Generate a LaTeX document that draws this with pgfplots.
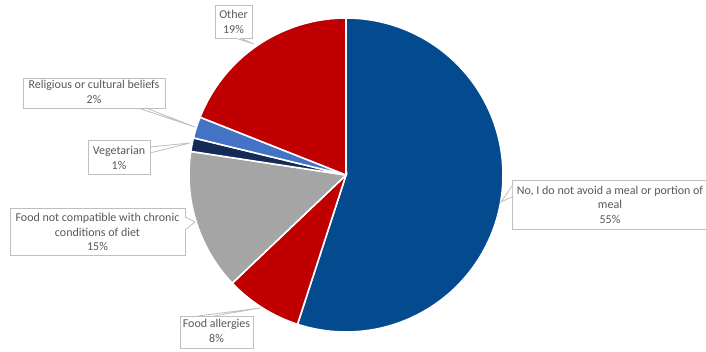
\documentclass[border=0pt]{standalone}
\usepackage{fontspec}
\setmainfont{Carlito}
\usepackage{pgfplots}
\pgfplotsset{compat=1.18}
\definecolor{pieblue}{HTML}{044A8F}
\definecolor{piered}{HTML}{C00000}
\definecolor{piegray}{HTML}{A5A5A5}
\definecolor{pienavy}{HTML}{142C55}
\definecolor{pielblue}{HTML}{4472C4}
\definecolor{txtgray}{HTML}{595959}
\definecolor{boxgray}{HTML}{BFBFBF}
% slice values (percent), clockwise from 12 o'clock
\def\vNo{55.0}
\def\vAll{7.9}
\def\vChr{14.5}
\def\vVeg{1.4}
\def\vRel{2.2}
\def\vOth{19.0}
\pgfmathsetmacro\aA{0}
\pgfmathsetmacro\aB{\aA+3.6*\vNo}
\pgfmathsetmacro\aC{\aB+3.6*\vAll}
\pgfmathsetmacro\aD{\aC+3.6*\vChr}
\pgfmathsetmacro\aE{\aD+3.6*\vVeg}
\pgfmathsetmacro\aF{\aE+3.6*\vRel}
\pgfmathsetmacro\aG{\aF+3.6*\vOth}
\begin{document}
\begin{tikzpicture}
\begin{axis}[
  width=706bp, height=352bp, scale only axis,
  xmin=0, xmax=706, ymin=0, ymax=352, y dir=reverse,
  hide axis, clip=false,
]
\pgfplotsset{pieslice/.style={draw=white, line width=1.6bp, samples=90, variable=\t}}
\addplot[pieslice, fill=pieblue, domain=\aA:\aB, samples=150] ({346+157*sin(t)},{175-157*cos(t)}) -- (axis cs:346,175) -- cycle;
\addplot[pieslice, fill=piered, domain=\aB:\aC] ({346+157*sin(t)},{175-157*cos(t)}) -- (axis cs:346,175) -- cycle;
\addplot[pieslice, fill=piegray, domain=\aC:\aD] ({346+157*sin(t)},{175-157*cos(t)}) -- (axis cs:346,175) -- cycle;
\addplot[pieslice, fill=pienavy, domain=\aD:\aE, samples=10] ({346+157*sin(t)},{175-157*cos(t)}) -- (axis cs:346,175) -- cycle;
\addplot[pieslice, fill=pielblue, domain=\aE:\aF, samples=10] ({346+157*sin(t)},{175-157*cos(t)}) -- (axis cs:346,175) -- cycle;
\addplot[pieslice, fill=piered, domain=\aF:\aG] ({346+157*sin(t)},{175-157*cos(t)}) -- (axis cs:346,175) -- cycle;

% label boxes with callout wedges
\tikzset{lbox/.style={draw=boxgray, fill=white, line width=0.8bp},
         wedge/.style={draw=boxgray, line width=0.8bp},
         ltxt/.style={text=txtgray, align=center, inner sep=0pt, font=\fontsize{12bp}{14.5bp}\selectfont}}
% Other
\draw[lbox] (axis cs:215,5) rectangle (axis cs:252,38);
\fill[white] (axis cs:235,38) -- (axis cs:253,43) -- (axis cs:240,38) -- cycle;
\draw[wedge] (axis cs:235,38) -- (axis cs:254,44) -- (axis cs:240,38);
\node[ltxt] at (axis cs:233.5,22) {Other\\19\%};
% Religious
\draw[lbox] (axis cs:23,78) rectangle (axis cs:165,108);
\draw[wedge] (axis cs:138,108) -- (axis cs:195,127) -- (axis cs:146,108);
\node[ltxt] at (axis cs:94,92) {Religious or cultural beliefs\\2\%};
% Vegetarian
\draw[lbox] (axis cs:88,140) rectangle (axis cs:150,174);
\draw[wedge] (axis cs:150,147) -- (axis cs:190,143) -- (axis cs:150,153);
\node[ltxt] at (axis cs:119,158) {Vegetarian\\1\%};
% Chronic
\draw[lbox] (axis cs:10,208) rectangle (axis cs:185,255);
\fill[white] (axis cs:185,217) -- (axis cs:195,222) -- (axis cs:185,230) -- cycle;
\draw[wedge] (axis cs:185,217) -- (axis cs:195,222) -- (axis cs:185,230);
\node[ltxt] at (axis cs:97.5,232) {Food not compatible with chronic\\conditions of diet\\15\%};
% Food allergies
\draw[lbox] (axis cs:180,316) rectangle (axis cs:253,348);
\draw[wedge] (axis cs:198,316) -- (axis cs:260,308) -- (axis cs:214,316);
\node[ltxt] at (axis cs:216.5,331) {Food allergies\\8\%};
% No
\draw[lbox] (axis cs:512,180) rectangle (axis cs:708,229);
\fill[white] (axis cs:512,186) -- (axis cs:501,202) -- (axis cs:512,197) -- cycle;
\draw[wedge] (axis cs:512,186) -- (axis cs:501,202) -- (axis cs:512,197);
\node[ltxt] at (axis cs:610,204.5) {No, I do not avoid a meal or portion of\\meal\\55\%};
\end{axis}
\pgfresetboundingbox
\path[use as bounding box] (current axis.south west) rectangle (current axis.north east);
\end{tikzpicture}
\end{document}
